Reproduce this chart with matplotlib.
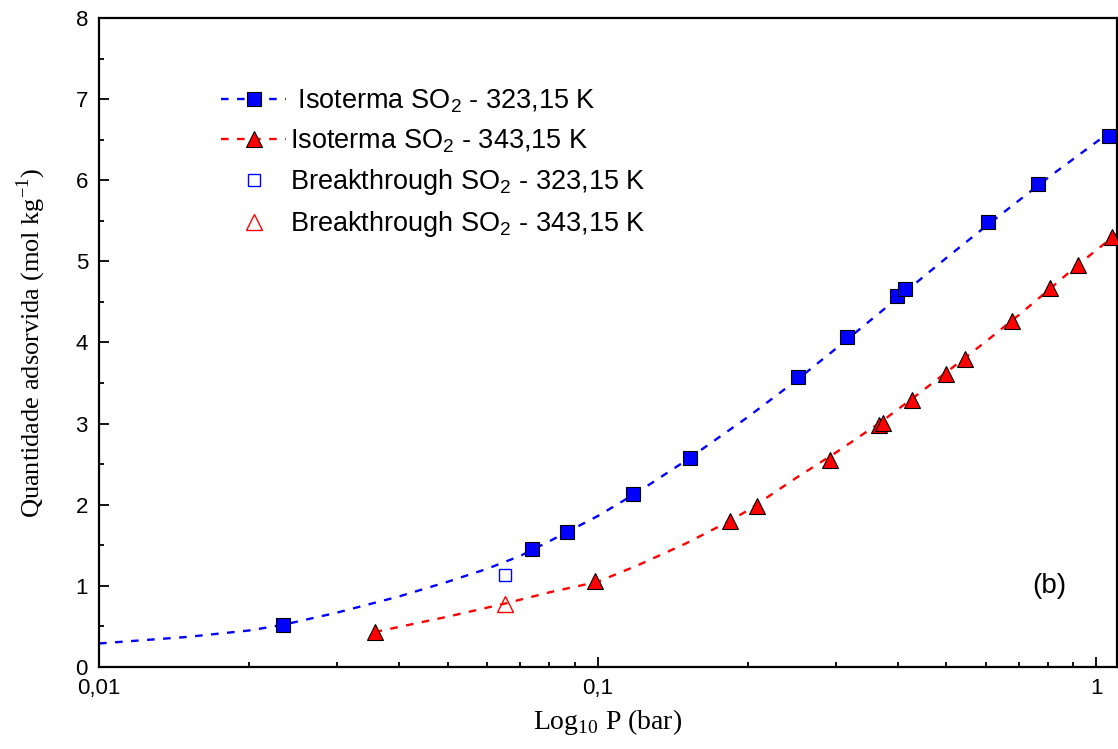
import matplotlib
matplotlib.use("Agg")
import matplotlib.pyplot as plt
from matplotlib.ticker import FixedLocator, FixedFormatter, LogLocator, NullFormatter, MultipleLocator

# isotherm points, 323.15 K
p_323 = [0.0234, 0.0738, 0.0867, 0.118, 0.153, 0.252, 0.317, 0.398, 0.414, 0.608, 0.765, 1.062]
q_323 = [0.52, 1.46, 1.67, 2.13, 2.58, 3.57, 4.07, 4.57, 4.66, 5.48, 5.95, 6.55]

# isotherm points, 343.15 K
p_343 = [0.0357, 0.0986, 0.184, 0.209, 0.293, 0.366, 0.373, 0.428, 0.500, 0.546, 0.679, 0.809, 0.920, 1.076]
q_343 = [0.43, 1.06, 1.80, 1.99, 2.55, 2.98, 3.01, 3.29, 3.61, 3.80, 4.27, 4.67, 4.96, 5.30]

# breakthrough points
p_bt = [0.0651]
q_bt_323 = [1.13]
q_bt_343 = [0.78]

# fitted curves
fit_p_323 = [0.010, 0.015, 0.020, 0.0234, 0.030, 0.040, 0.050, 0.060, 0.070, 0.080, 0.100,
             0.120, 0.150, 0.200, 0.250, 0.300, 0.400, 0.500, 0.600, 0.800, 1.000, 1.100]
fit_q_323 = [0.29, 0.37, 0.45, 0.52, 0.67, 0.87, 1.05, 1.21, 1.37, 1.55, 1.86,
             2.15, 2.54, 3.08, 3.53, 3.92, 4.55, 5.04, 5.43, 6.03, 6.47, 6.65]

fit_p_343 = [0.0357, 0.050, 0.065, 0.080, 0.100, 0.120, 0.150, 0.184, 0.200, 0.250, 0.300,
             0.370, 0.430, 0.500, 0.600, 0.700, 0.800, 0.920, 1.100]
fit_q_343 = [0.43, 0.62, 0.78, 0.92, 1.05, 1.25, 1.52, 1.80, 1.93, 2.33, 2.64,
             3.02, 3.32, 3.63, 4.01, 4.34, 4.64, 4.96, 5.34]

x_ticks = [0.01, 0.1, 1]
x_tick_labels = ["0,01", "0,1", "1"]

legend_labels = [" Isoterma SO$_\\mathregular{2}$ - 323,15 K",
                 "Isoterma SO$_\\mathregular{2}$ - 343,15 K",
                 "Breakthrough SO$_\\mathregular{2}$ - 323,15 K",
                 "Breakthrough SO$_\\mathregular{2}$ - 343,15 K"]

dash = (0, (3.2, 3.6))

fig = plt.figure(figsize=(11.18, 7.49), dpi=100)
ax = fig.add_axes([0.0886, 0.1095, 0.9104, 0.8665])

ax.plot(fit_p_323, fit_q_323, linestyle=dash, color="#0000ff", lw=1.7, zorder=2)
ax.plot(fit_p_343, fit_q_343, linestyle=dash, color="#ff0000", lw=1.7, zorder=2)

ax.plot(p_323, q_323, linestyle="none", marker="s", ms=10, mfc="#0000ff", mec="black", mew=0.8, zorder=3)
ax.plot(p_343, q_343, linestyle="none", marker="^", ms=12, mfc="#ff0000", mec="black", mew=0.8, zorder=3)
ax.plot(p_bt, q_bt_323, linestyle="none", marker="s", ms=9, mfc="none", mec="#0000ff", mew=1.0, zorder=3)
ax.plot(p_bt, q_bt_343, linestyle="none", marker="^", ms=11, mfc="none", mec="#ff0000", mew=1.0, zorder=3)

# legend handles
h1, = ax.plot([], [], linestyle=dash, color="#0000ff", lw=1.7, marker="s", ms=10,
              mfc="#0000ff", mec="black", mew=0.8)
h2, = ax.plot([], [], linestyle=dash, color="#ff0000", lw=1.7, marker="^", ms=12,
              mfc="#ff0000", mec="black", mew=0.8)
h3, = ax.plot([], [], linestyle="none", marker="s", ms=9, mfc="none", mec="#0000ff", mew=1.0)
h4, = ax.plot([], [], linestyle="none", marker="^", ms=11, mfc="none", mec="#ff0000", mew=1.0)
ax.legend([h1, h2, h3, h4], legend_labels,
          loc="upper left", bbox_to_anchor=(0.096, 0.93), frameon=False,
          prop={"family": "Liberation Sans", "size": 19.5}, handlelength=2.4,
          handletextpad=0.15, labelspacing=0.45)

ax.set_xscale("log")
ax.set_xlim(0.01, 1.10)
ax.set_ylim(0, 8)

ax.xaxis.set_major_locator(FixedLocator(x_ticks))
ax.xaxis.set_major_formatter(FixedFormatter(x_tick_labels))
ax.xaxis.set_minor_locator(LogLocator(base=10, subs=range(2, 10)))
ax.xaxis.set_minor_formatter(NullFormatter())
ax.yaxis.set_major_locator(MultipleLocator(1))
ax.yaxis.set_minor_locator(MultipleLocator(0.5))

ax.tick_params(which="both", direction="in", top=False, right=False, width=1.3)
ax.tick_params(which="major", length=7, labelsize=16, pad=8)
ax.tick_params(which="minor", length=3.5)
for lab in ax.get_xticklabels() + ax.get_yticklabels():
    lab.set_fontfamily("Liberation Sans")
for sp in ax.spines.values():
    sp.set_linewidth(1.6)

ax.set_xlabel("Log$_\\mathregular{10}$ P (bar)", fontsize=20, family="Liberation Serif", labelpad=6)
ax.set_ylabel("Quantidade adsorvida (mol kg$^\\mathregular{-1}$)", fontsize=19,
              family="Liberation Serif", labelpad=20)

ax.text(0.9165, 0.125, "(b)", transform=ax.transAxes, fontsize=20, family="Liberation Sans",
        ha="left", va="center")

fig.savefig("out.png", dpi=100)
